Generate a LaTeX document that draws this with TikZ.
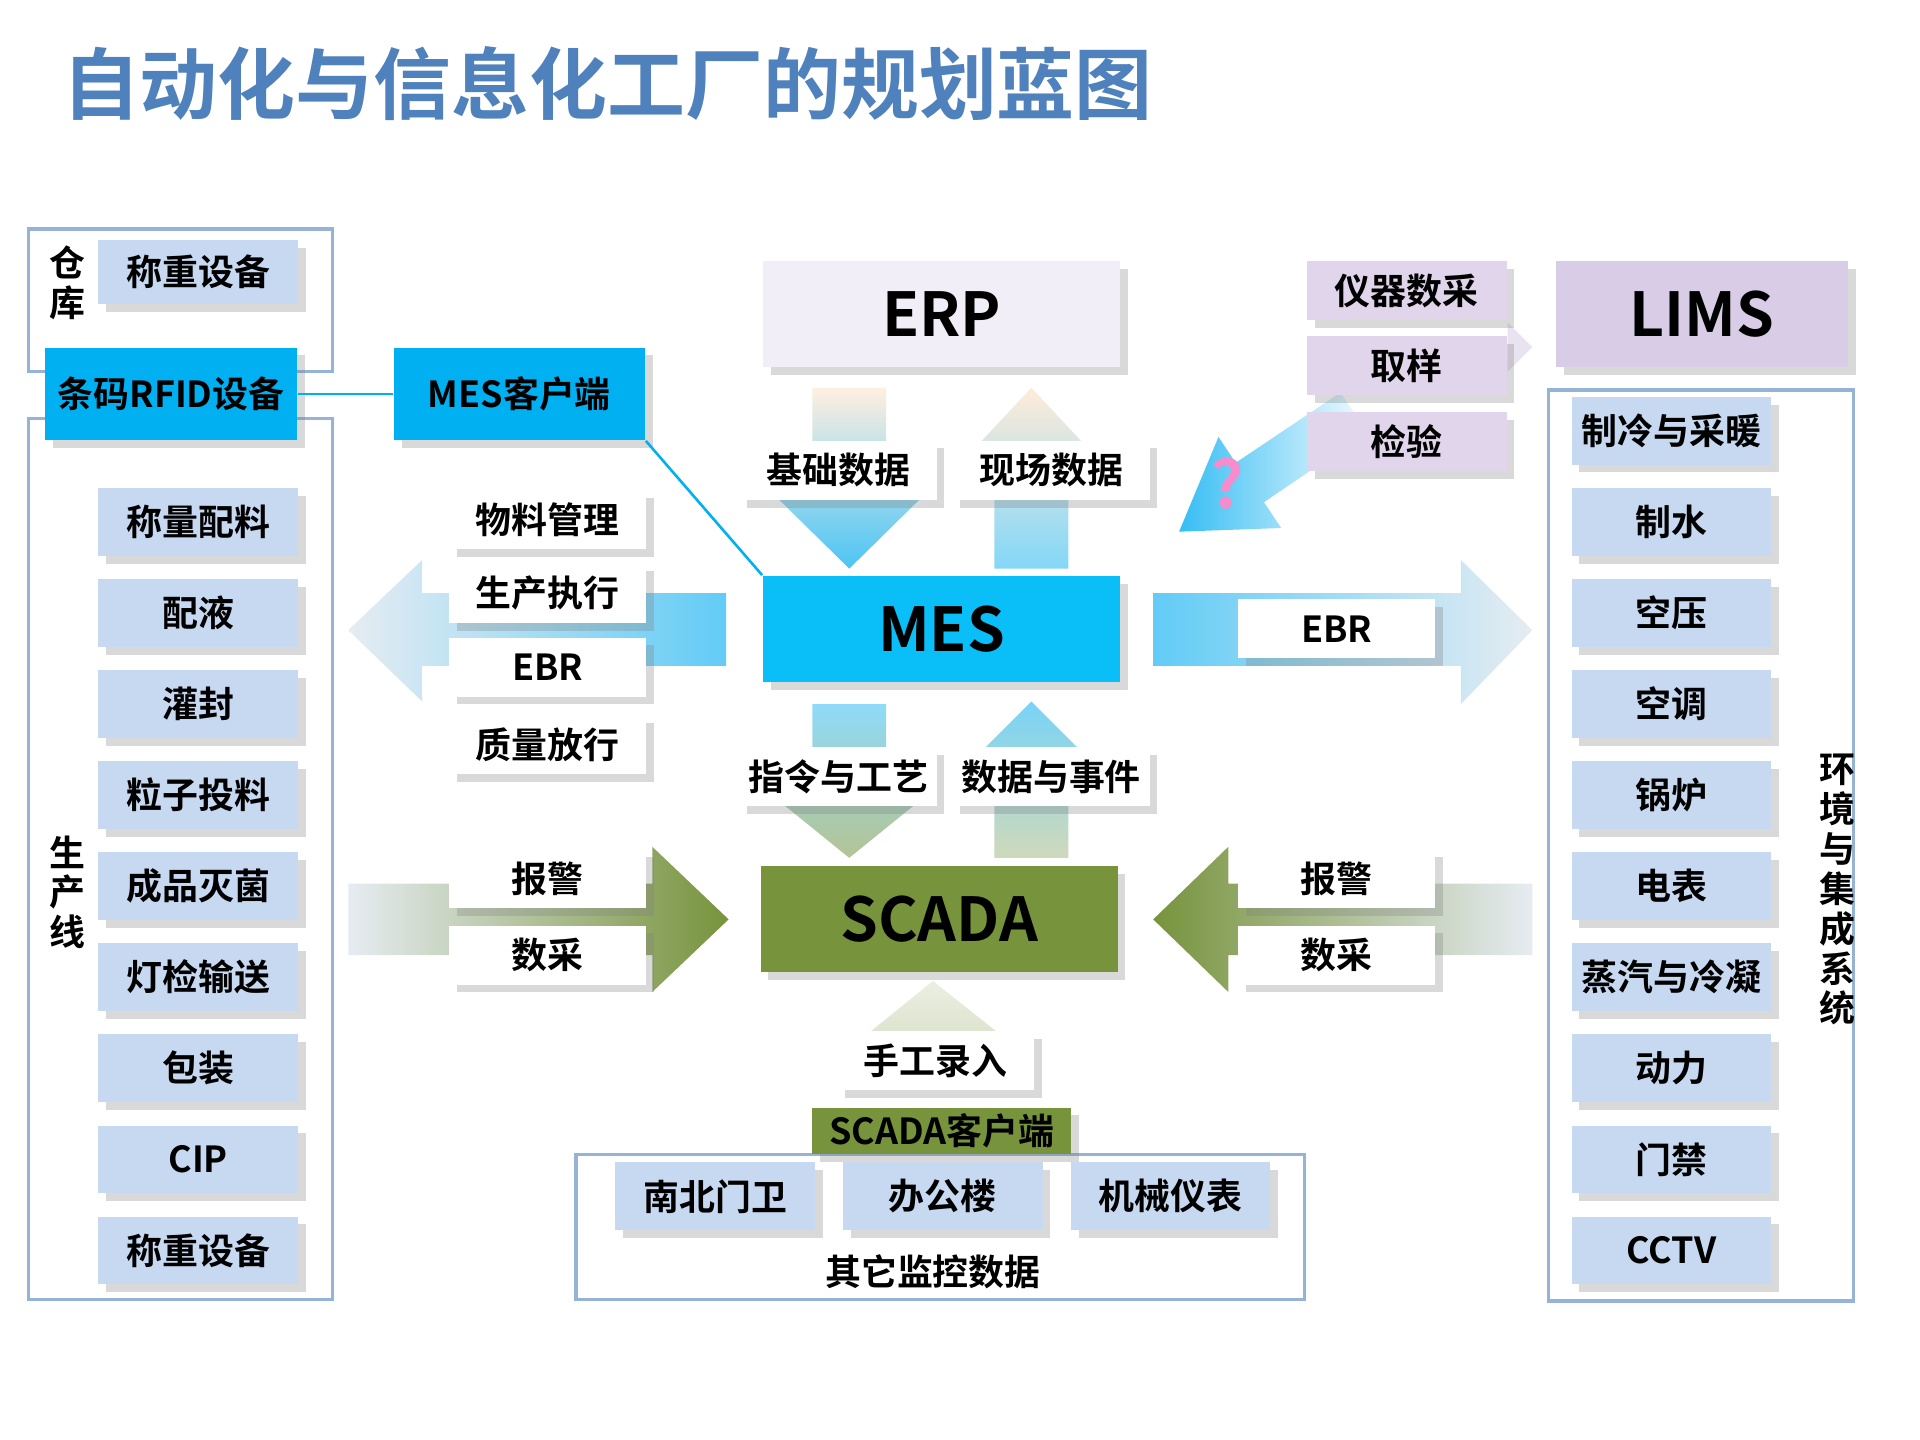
\documentclass[tikz,border=0pt]{standalone}
\usepackage{fontspec}
\setmainfont{Noto Sans CJK SC}[BoldFont={Noto Sans CJK SC Bold}]
\usetikzlibrary{shadows}
\definecolor{lb}{HTML}{C6D9F1}
\definecolor{frm}{HTML}{95B3D7}
\definecolor{cy}{HTML}{00B0F0}
\definecolor{sky}{HTML}{1FB6F2}
\definecolor{mescol}{HTML}{0ABEF8}
\definecolor{olv}{HTML}{77933C}
\definecolor{lav}{HTML}{E0D5EA}
\definecolor{lims}{HTML}{D9CCE6}
\definecolor{erp}{HTML}{F1EEF8}
\definecolor{ttl}{HTML}{4F81BD}
\definecolor{pale}{HTML}{E6ECF2}
\begin{document}
\begin{tikzpicture}[x=0.01cm,y=-0.01cm,
 shd/.style={drop shadow={opacity=0.3,shadow xshift=1.8pt,shadow yshift=-1.8pt}},
 bx/.style={shd,fill=lb,minimum width=1.62cm,minimum height=0.52cm,inner sep=0pt,font=\bfseries\fontsize{8.3}{8.3}\selectfont},
 wb/.style={shd,fill=white,minimum width=1.6cm,minimum height=0.48cm,inner sep=0pt,font=\bfseries\fontsize{8.3}{8.3}\selectfont},
 big/.style={shd,minimum width=2.9cm,minimum height=0.86cm,inner sep=0pt,font=\bfseries\fontsize{14}{14}\selectfont},
 frame/.style={draw=frm,line width=0.8pt},
 vt/.style={align=center,font=\bfseries\fontsize{8.3}{9.2}\selectfont,inner sep=0pt}]
\useasboundingbox (0,0) rectangle (1560,1170);
\node[anchor=west,text=ttl,font=\bfseries\fontsize{18}{18}\selectfont] (title) at (38,68) {自动化与信息化工厂的规划蓝图};
% left frames
\draw[frame] (23,186) rectangle (270,302);
\draw[frame] (23,340) rectangle (270,1056);
\node[vt] (ck) at (55,230) {仓\\库};
\node[vt] (scx) at (55,725) {生\\产\\线};
\node[bx] (l0) at (161,221) {称重设备};
\node[bx,fill=cy,minimum width=2.05cm,minimum height=0.75cm] (rfid) at (139,320) {条码RFID设备};
\foreach \t [count=\i from 0] in {称量配料,配液,灌封,粒子投料,成品灭菌,灯检输送,包装,CIP,称重设备}
  \node[bx,minimum height=0.55cm] (p\i) at (161,424+74*\i) {\t};
\node[bx,fill=cy,minimum width=2.04cm,minimum height=0.75cm] (mc) at (422,320) {MES客户端};
% right frame
\draw[frame] (1258,317) rectangle (1506,1057);
\node[vt] (hj) at (1493,723) {环\\境\\与\\集\\成\\系\\统};
\foreach \t [count=\i from 0] in {制冷与采暖,制水,空压,空调,锅炉,电表,蒸汽与冷凝,动力,门禁,CCTV}
  \node[bx,minimum height=0.55cm] (r\i) at (1358,350+74*\i) {\t};
% arrows
\shade[top color=orange!12,bottom color=sky!80] (660,315)--(720,315)--(720,405)--(748,405)--(690,462)--(632,405)--(660,405)--cycle;
\shade[top color=orange!15,bottom color=sky!55] (808,462)--(868,462)--(868,360)--(880,360)--(838,315)--(796,360)--(808,360)--cycle;
\shade[top color=sky!50,bottom color=olv!55] (660,572)--(720,572)--(720,650)--(748,650)--(690,697)--(632,650)--(660,650)--cycle;
\shade[top color=sky!60,bottom color=olv!35] (808,697)--(868,697)--(868,612)--(880,612)--(838,570)--(796,612)--(808,612)--cycle;
\shade[left color=pale,right color=sky!70] (590,482)--(590,541)--(343,541)--(343,570)--(283,512)--(343,455)--(343,482)--cycle;
\shade[left color=sky!70,right color=pale] (937,482)--(1187,482)--(1187,455)--(1245,512)--(1187,572)--(1187,541)--(937,541)--cycle;
\shade[left color=pale,right color=olv] (283,718)--(530,718)--(530,688)--(592,747)--(530,806)--(530,776)--(283,776)--cycle;
\shade[left color=olv,right color=pale] (1245,718)--(998,718)--(998,688)--(937,747)--(998,806)--(998,776)--(1245,776)--cycle;
\shade[top color=olv!15,bottom color=olv!25] (758,797)--(812,840)--(705,840)--cycle;
\shade[left color=sky!90,right color=sky!5] (1111,351)--(1089,319)--(1004,376)--(990,355)--(958,432)--(1041,429)--(1027,408)--cycle;
\fill[lav!70] (1225,262)--(1245,282)--(1225,302)--cycle;
\node[text=magenta!45,font=\bfseries\fontsize{15}{15}\selectfont] (q) at (997,393) {?};
% central
\node[big,fill=erp] (erp) at (765,255) {ERP};
\node[big,fill=mescol] (mes) at (765,511) {MES};
\node[big,fill=olv] (scada) at (763,747) {SCADA};
\node[wb] (jc) at (681,382) {基础数据};
\node[wb] (xc) at (854,382) {现场数据};
\node[wb] (zl) at (681,631) {指令与工艺};
\node[wb] (sj) at (854,631) {数据与事件};
\foreach \t [count=\i from 0] in {物料管理,生产执行,EBR}
  \node[wb] (m\i) at (445,422+60*\i) {\t};
\node[wb] (m3) at (445,605) {质量放行};
\node[wb] (ebr) at (1086,511) {EBR};
\node[wb] (bj1) at (445,714) {报警};
\node[wb] (sc1) at (445,776) {数采};
\node[wb] (bj2) at (1086,714) {报警};
\node[wb] (sc2) at (1086,776) {数采};
\node[wb] (sg) at (760,862) {手工录入};
\draw[frame] (468,938) rectangle (1060,1056);
\node[bx,fill=olv,minimum width=2.1cm,minimum height=0.38cm] (sk) at (765,919) {SCADA客户端};
\node[bx,minimum height=0.55cm] (nb) at (581,972) {南北门卫};
\node[bx,minimum height=0.55cm] (bg) at (766,972) {办公楼};
\node[bx,minimum height=0.55cm] (jx) at (951,972) {机械仪表};
\node[font=\bfseries\fontsize{8.3}{8.3}\selectfont] (qt) at (758,1033) {其它监控数据};
% LIMS side
\node[bx,fill=lav,minimum height=0.48cm] (yq) at (1143,236) {仪器数采};
\node[bx,fill=lav,minimum height=0.48cm] (qy) at (1143,297) {取样};
\node[bx,fill=lav,minimum height=0.48cm] (jy) at (1143,359) {检验};
\node[big,fill=lims,minimum width=2.37cm] (lims) at (1383,255) {LIMS};
% connectors
\draw[cy,line width=0.6pt] (rfid.east)--(mc.west);
\draw[cy,line width=0.6pt] (mc.south east)--(mes.north west);
\end{tikzpicture}
\end{document}
